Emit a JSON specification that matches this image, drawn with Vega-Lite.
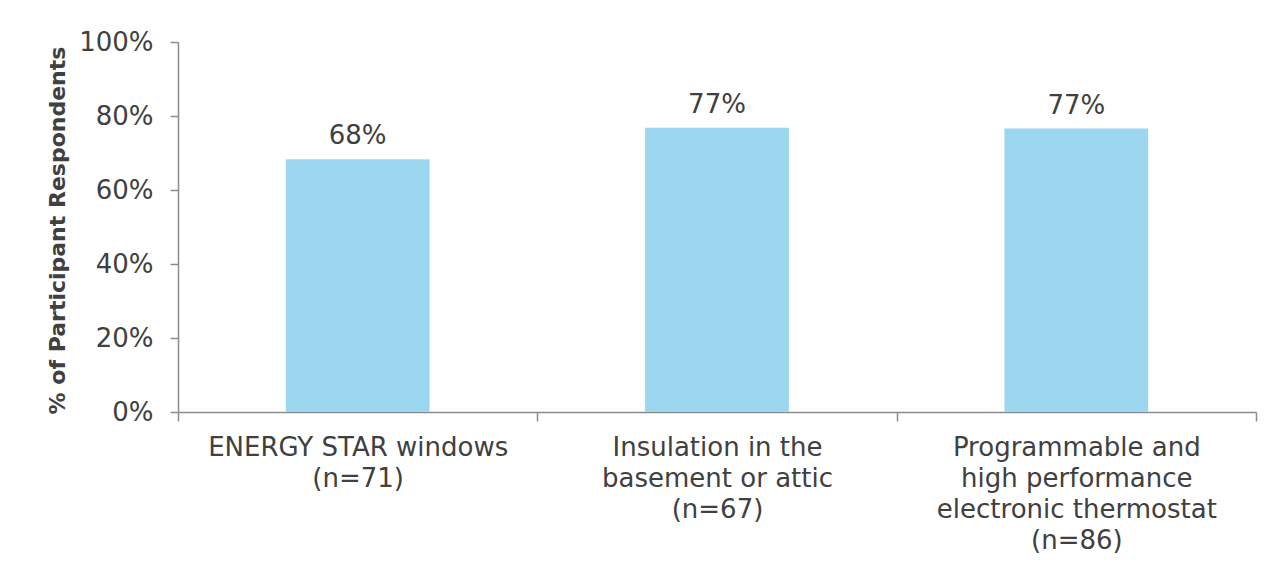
{
  "$schema": "https://vega.github.io/schema/vega-lite/v6.json",
  "autosize": {"type": "none"},
  "padding": {"left": 178, "top": 42, "right": 24, "bottom": 151},
  "width": 1078,
  "height": 370,
  "background": "white",
  "config": {
    "view": {"stroke": null},
    "font": "DejaVu Sans",
    "axis": {
      "domainColor": "#8c8c8c",
      "tickColor": "#8c8c8c",
      "domainWidth": 1.5,
      "tickWidth": 1.5,
      "labelColor": "#404040",
      "labelFont": "DejaVu Sans",
      "labelFontSize": 26,
      "grid": false
    }
  },
  "data": {
    "values": [
      {"item": "ENERGY STAR windows\n(n=71)", "share": 0.683},
      {"item": "Insulation in the\nbasement or attic\n(n=67)", "share": 0.768},
      {"item": "Programmable and\nhigh performance\nelectronic thermostat\n(n=86)", "share": 0.766}
    ]
  },
  "encoding": {
    "x": {
      "field": "item",
      "type": "nominal",
      "sort": null,
      "scale": {"paddingInner": 0, "paddingOuter": 0},
      "axis": {
        "title": null,
        "labelAngle": 0,
        "tickBand": "extent",
        "tickSize": 9,
        "labelPadding": 13,
        "labelLimit": 0,
        "labelLineHeight": 31,
        "labelBaseline": "top",
        "labelExpr": "datum.value ? split(datum.value, '\\n') : ''"
      }
    },
    "y": {
      "field": "share",
      "type": "quantitative",
      "scale": {"domain": [0, 1], "nice": false},
      "axis": {
        "values": [0, 0.2, 0.4, 0.6, 0.8, 1],
        "format": ".0%",
        "tickSize": 8,
        "labelPadding": 17,
        "title": "% of Participant Respondents",
        "titleFont": "DejaVu Sans",
        "titleFontSize": 22,
        "titleFontWeight": "bold",
        "titleColor": "#404040",
        "titleX": -121,
        "titleY": 188,
        "titleAngle": -90,
        "titleAlign": "center",
        "titleBaseline": "middle"
      }
    }
  },
  "layer": [
    {"mark": {"type": "bar", "color": "#9bd7ef", "width": {"band": 0.4}}},
    {
      "mark": {
        "type": "text",
        "baseline": "alphabetic",
        "dy": -15,
        "fontSize": 26,
        "color": "#404040",
        "font": "DejaVu Sans"
      },
      "encoding": {
        "text": {"field": "share", "type": "quantitative", "format": ".0%"}
      }
    }
  ]
}
